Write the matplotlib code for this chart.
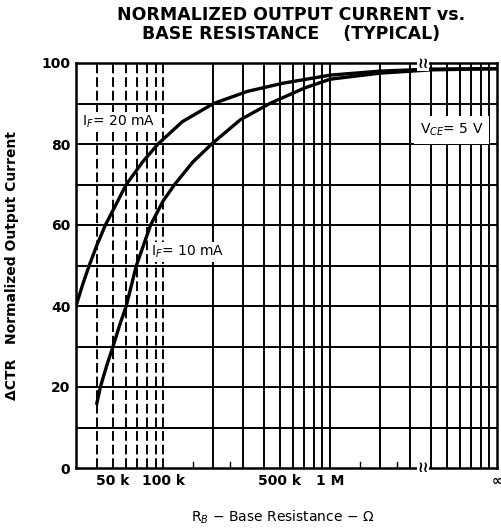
import matplotlib
matplotlib.use("Agg")
import matplotlib.pyplot as plt

# curve data (R_B in ohms, normalized output %)
rb_20ma = [30e3, 33e3, 36e3, 40e3, 45e3, 52e3, 60e3, 75e3, 93e3, 130e3, 200e3,
           320e3, 520e3, 1e6, 2e6, 4e6, 10e6]
out_20ma = [40, 45.5, 50, 55, 60, 65, 70, 75.5, 80, 85.5, 90,
            93, 95, 97, 98, 98.5, 98.6]

rb_10ma = [40e3, 42e3, 46e3, 50e3, 55e3, 60e3, 69e3, 84e3, 100e3, 117e3, 150e3,
           195e3, 290e3, 435e3, 700e3, 1e6, 2e6, 4e6, 10e6]
out_10ma = [16, 20, 25.5, 30, 35.5, 40, 50, 60, 66, 70, 75.5,
            80, 86, 90, 93.8, 96, 97.5, 98.3, 98.6]

xtick_pos = [50e3, 100e3, 500e3, 1e6, 10e6]
xtick_lab = ["50 k", "100 k", "500 k", "1 M", "∞"]
ytick_pos = [0, 20, 40, 60, 80, 100]

fig = plt.figure(figsize=(5.02, 5.29), dpi=100)
ax = fig.add_axes([76 / 502, 1 - 468 / 529, 421 / 502, 405 / 529])
ax.set_xscale("log")
ax.set_xlim(30e3, 10e6)
ax.set_ylim(0, 100)

# grid: dashed in the low range, solid elsewhere
low = [40e3, 50e3, 60e3, 70e3, 80e3, 90e3, 100e3]
high = [200e3, 300e3, 400e3, 500e3, 600e3, 700e3, 800e3, 900e3, 1e6,
        2e6, 3e6, 4e6, 5e6, 6e6, 7e6, 8e6, 9e6]
for v in low:
    ax.axvline(v, color="black", lw=1.4, ls=(0, (5, 2)), zorder=1)
for v in high:
    ax.axvline(v, color="black", lw=1.4, zorder=1)
for h in range(10, 100, 10):
    ax.axhline(h, color="black", lw=1.4, zorder=1)
# short ticks at 1.5 and 2.5 of each decade
for v in [150e3, 250e3, 1.5e6, 2.5e6]:
    ax.plot([v, v], [0, 1.5], color="black", lw=1.0, zorder=1)

ax.plot(rb_20ma, out_20ma, color="black", lw=2.4, zorder=3)
ax.plot(rb_10ma, out_10ma, color="black", lw=2.4, zorder=3)

ax.set_xticks(xtick_pos)
ax.set_xticklabels(xtick_lab)
ax.set_xticks([], minor=True)
ax.set_yticks(ytick_pos)
ax.tick_params(axis="both", length=0, labelsize=10, pad=4)
for lab in ax.get_xticklabels() + ax.get_yticklabels():
    lab.set_fontweight("bold")
for s in ax.spines.values():
    s.set_linewidth(1.8)

bbox = dict(facecolor="white", edgecolor="none", pad=1.5)
ax.text(32.5e3, 85.4, "I$_F$= 20 mA", fontsize=10, va="center", ha="left",
        bbox=bbox, zorder=4)
ax.text(84e3, 53.3, "I$_F$= 10 mA", fontsize=10, va="center", ha="left",
        bbox=bbox, zorder=4)
ax.text(3.45e6, 83.5, "V$_{CE}$= 5 V", fontsize=10, va="center", ha="left",
        bbox=dict(facecolor="white", edgecolor="none", pad=4), zorder=4)

# axis break marks
for yb in [0, 100]:
    ax.text(3.6e6, yb, "≀≀", fontsize=11, ha="center", va="center",
            fontweight="bold", bbox=dict(facecolor="white", edgecolor="none", pad=0),
            zorder=5, clip_on=False)

ax.set_xlabel("R$_B$ − Base Resistance − Ω", fontsize=10, labelpad=14)
ax.xaxis.set_label_coords(0.49, -0.1)
ax.set_ylabel("ΔCTR   Normalized Output Current", fontsize=10, fontweight="bold",
              labelpad=16)

fig.text(0.58, 0.954, "NORMALIZED OUTPUT CURRENT vs.\nBASE RESISTANCE    (TYPICAL)",
         ha="center", va="center", fontsize=12.5, fontweight="bold", linespacing=1.05)

fig.savefig("out.png", dpi=100)
